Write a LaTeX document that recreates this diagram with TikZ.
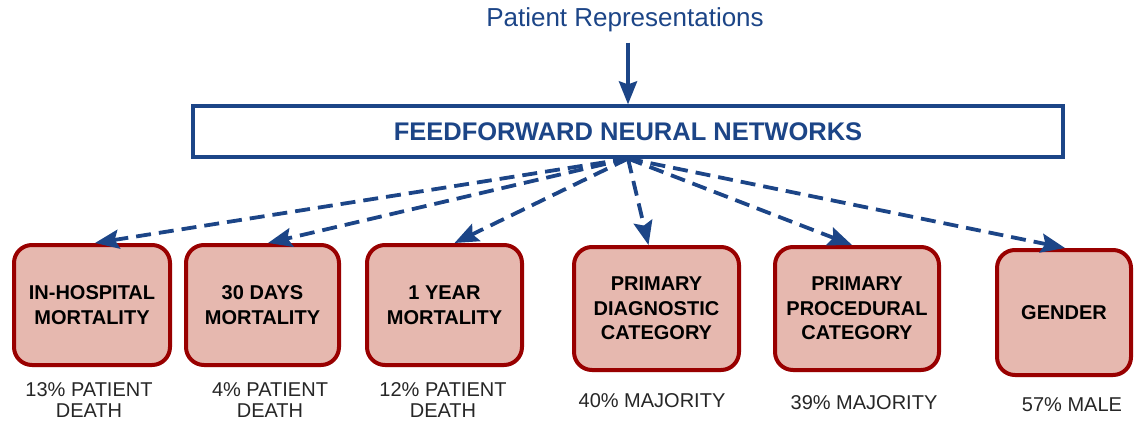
\documentclass[tikz,border=0pt]{standalone}
\usepackage{fontspec}
\setmainfont{Liberation Sans}
\usetikzlibrary{arrows.meta,shadows}

\definecolor{netblue}{HTML}{1C4587}
\definecolor{taskfill}{HTML}{E6B8AF}
\definecolor{taskline}{HTML}{990000}

\tikzset{
  netbox/.style={draw=netblue, line width=3.2pt, fill=white, text=netblue,
    font=\fontsize{25.5}{28}\selectfont\bfseries,
    minimum width=870pt, minimum height=51pt,
    drop shadow={opacity=0.2, shadow xshift=1pt, shadow yshift=-2pt}},
  taskbox/.style={draw=taskline, fill=taskfill, line width=4pt, rounded corners=18pt,
    align=center, font=\fontsize{20}{24.5}\selectfont\bfseries,
    drop shadow={opacity=0.2, shadow xshift=1pt, shadow yshift=-2pt}},
  statlabel/.style={align=center, text=black!85, font=\fontsize{20}{21.5}\selectfont},
  flow/.style={netblue, line width=3.8pt, dash pattern=on 15pt off 8pt,
    -{Stealth[length=24pt,width=19pt,inset=4pt]}},
}

\begin{document}
\begin{tikzpicture}[x=1pt, y=-1pt]
    \useasboundingbox (0,0) rectangle (1134,423);

    % input and network
    \node[text=netblue, font=\fontsize{26}{28}\selectfont] (rep) at (625,20) {Patient Representations};
    \node[netbox] (ffnn) at (628,131.5) {FEEDFORWARD NEURAL NETWORKS};

    % tasks
    \node[taskbox, minimum width=156pt, minimum height=120pt] (mort) at (92,305) {IN-HOSPITAL\\MORTALITY};
    \node[taskbox, minimum width=153pt, minimum height=120pt] (days) at (262.5,305) {30 DAYS\\MORTALITY};
    \node[taskbox, minimum width=155pt, minimum height=120pt] (year) at (444.5,305) {1 YEAR\\MORTALITY};
    \node[taskbox, minimum width=165pt, minimum height=123pt] (diag) at (656.5,308.5) {PRIMARY\\DIAGNOSTIC\\CATEGORY};
    \node[taskbox, minimum width=164pt, minimum height=123pt] (proc) at (857,308.5) {PRIMARY\\PROCEDURAL\\CATEGORY};
    \node[taskbox, minimum width=134pt, minimum height=125pt] (gend) at (1064,312.5) {GENDER};

    % statistics
    \node[statlabel] (smort) at (89,400) {13\% PATIENT\\DEATH};
    \node[statlabel] (sdays) at (270,400) {4\% PATIENT\\DEATH};
    \node[statlabel] (syear) at (443,400) {12\% PATIENT\\DEATH};
    \node[statlabel] (sdiag) at (652,401) {40\% MAJORITY};
    \node[statlabel] (sproc) at (864,403) {39\% MAJORITY};
    \node[statlabel] (sgend) at (1072,405) {57\% MALE};

    \draw[netblue, line width=4pt, shorten <=7pt, -{Stealth[length=23pt,width=18pt,inset=3pt]}]
        (rep.south -| ffnn.north) -- (ffnn.north);
    \foreach \t/\dx in {mort/3, days/5.5, year/10, diag/-8, proc/-5, gend/1}
        \draw[flow] (ffnn.south) -- ([xshift=\dx pt]\t.north);

\end{tikzpicture}
\end{document}
